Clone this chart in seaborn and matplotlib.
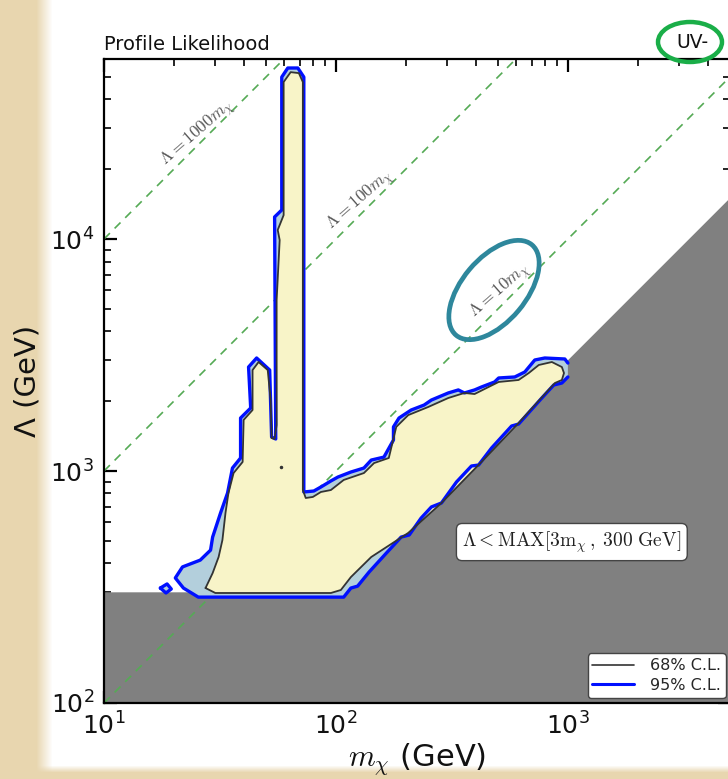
import numpy as np
import pandas as pd
import matplotlib
matplotlib.use('Agg')
import matplotlib.pyplot as plt
import seaborn as sns
from matplotlib.lines import Line2D
from matplotlib.patches import Ellipse
from matplotlib.transforms import IdentityTransform

sns.set_theme(style='ticks')
plt.rcParams['font.family'] = ['DejaVu Sans']
plt.rcParams['mathtext.fontset'] = 'cm'

# 95% C.L. contour (open at the m = 1 TeV grid edge)
cl95_m = [1000, 942, 869, 772, 613, 572, 469, 412, 384, 331, 285, 258, 233, 207, 191, 165, 139, 124, 116, 108, 25.5, 22.0,
          20.3, 21.8, 26.0, 28.8, 29.4, 31.8, 34.1, 35.8, 38.8, 38.8, 42.9, 42.0, 45.5, 51.8, 52.8, 55.0, 54.4, 58.4,
          58.4, 62.0, 68.5, 72.7, 72.7, 80.3, 86.1, 95.1, 102, 116, 132, 142, 161, 177, 177, 187, 211, 240, 258, 305,
          337, 358, 396, 424, 483, 503, 590, 652, 720, 795, 970, 1000]
cl95_lam = [2543, 2395, 2348, 2064, 1594, 1563, 1257, 1061, 1051, 897, 728, 700, 627, 530, 519, 443, 367, 319, 313, 286, 286, 313,
            346, 386, 413, 456, 519, 659, 804, 1030, 1138, 1692, 1869, 2807, 3070, 2724, 1402, 1374, 12450, 13340,
            49900, 54600, 54600, 49900, 812, 820, 853, 906, 942, 990, 1030, 1115, 1148, 1360, 1549, 1692, 1832, 1925, 2023, 2170,
            2236, 2170, 2236, 2302, 2420, 2518, 2543, 2672, 3010, 3070, 3040, 2920]
# small 95% island at low mass
isl95_m = [17.5, 18.7, 19.5, 18.5, 17.5]
isl95_lam = [313, 326, 310, 298, 313]

# 68% C.L. contour (closed)
cl68_m = [27.4, 29.4, 31.2, 32.4, 33.4, 34.4, 36.2, 39.6, 40.0, 43.7, 43.7, 46.4, 50.8, 52.3, 52.8, 54.4, 55.5, 55.5, 57.2, 56.1,
          59.5, 59.5, 63.8, 69.2, 72.0, 72.0, 74.1, 79.5, 86.1, 95.1, 108, 132, 146, 169, 182, 205, 250, 305, 358, 396,
          455, 503, 613, 678, 749, 853, 942, 962, 942, 879, 613, 424, 285, 205, 142, 116, 105, 95.1, 30.2, 27.4]
cl68_lam = [313, 363, 426, 504, 659, 804, 980, 1094, 1660, 1832, 2724, 2950, 2724, 2023, 1387, 1374, 1578, 5458, 9900, 10940,
            12680, 47500, 52400, 51900, 47500, 828, 765, 773, 812, 828, 915, 980, 1082, 1138, 1549, 1742, 1888, 2064, 2170, 2147,
            2302, 2420, 2468, 2644, 2864, 2950, 2807, 2644, 2468, 2395, 1610, 1094, 728, 541, 426, 349, 307, 298, 298, 313]
dot68_m = [57.8]
dot68_lam = [1040]

# excluded region: Lambda < max(3 m, 300 GeV)
excl_m = [10, 100, 5000]
excl_lam = [300, 300, 15000]

# reference lines Lambda = k * m
ref_k = [1000, 100, 10]
ref_m = [10, 5000]
ref_labels = [r'$\Lambda = 1000m_\chi$', r'$\Lambda = 100m_\chi$', r'$\Lambda = 10m_\chi$']
ref_label_m = [25.5, 128, 513]
ref_label_lam = [28500, 14700, 5910]

W, H = 728, 779
fig = plt.figure(figsize=(W / 100, H / 100), dpi=100)

# parchment frame behind the white plot card
bg = fig.add_axes([0, 0, 1, 1], zorder=-10)
yy, xx = np.mgrid[0:H, 0:W]
wx = np.clip((xx - 36) / 16.0, 0, 1)
wy = np.clip((772 - yy) / 7.0, 0, 1)
w = (wx * wy)[..., None]
parch = np.array([0.91, 0.84, 0.69])
bg.imshow(w + (1 - w) * parch, aspect='auto', interpolation='bilinear')
bg.axis('off')

ax = fig.add_axes([104 / W, 76 / H, 626 / W, 644.5 / H])
ax.set_facecolor('white')
ax.set_xscale('log')
ax.set_yscale('log')
ax.set_xlim(10, 5000)
ax.set_ylim(100, 6e4)

# excluded grey region
ax.fill_between(excl_m, 1, excl_lam, color='#808080', lw=0, zorder=1)

# reference dashed lines
ref_df = pd.DataFrame([(k, m, k * m) for k in ref_k for m in ref_m], columns=['k', 'm', 'lam'])
sns.lineplot(data=ref_df, x='m', y='lam', units='k', estimator=None, color='#55aa55',
             lw=1.2, linestyle=(0, (5, 4)), ax=ax, zorder=2)
for lab, lm, ll in zip(ref_labels, ref_label_m, ref_label_lam):
    ax.text(lm, ll, lab, rotation=41, ha='center', va='center', rotation_mode='anchor',
            fontsize=12.5, color='#555555', zorder=6)

# contours
ax.fill(cl95_m, cl95_lam, color='#b3cfdc', lw=0, zorder=3)
ax.fill(isl95_m, isl95_lam, color='#b3cfdc', lw=0, zorder=3)
ax.fill(cl68_m, cl68_lam, color='#f8f4c8', lw=0, zorder=3.5)
sns.lineplot(x=cl95_m, y=cl95_lam, sort=False, estimator=None, color='#0010ff', lw=2.4, ax=ax, zorder=4)
sns.lineplot(x=isl95_m, y=isl95_lam, sort=False, estimator=None, color='#0010ff', lw=2.4, ax=ax, zorder=4)
sns.lineplot(x=cl68_m, y=cl68_lam, sort=False, estimator=None, color='#333333', lw=1.3, ax=ax, zorder=5)
ax.plot(dot68_m, dot68_lam, 'o', ms=1.5, color='#333333', zorder=5)

ax.text(1040, 494, r'$\Lambda<\mathrm{MAX}[3\mathrm{m}_\chi\,,\;300\ \mathrm{GeV}]$', ha='center', va='center',
        fontsize=14, color='#222222', zorder=7,
        bbox=dict(boxstyle='round,pad=0.3,rounding_size=0.3', fc='white', ec='#444444', lw=1))

handles = [Line2D([], [], color='#333333', lw=1.2), Line2D([], [], color='#0010ff', lw=2.2)]
leg = ax.legend(handles, ['68% C.L.', '95% C.L.'], loc='lower right', bbox_to_anchor=(0.993, 0.008),
                borderaxespad=0, fontsize=11.5, frameon=True, fancybox=True, handlelength=2.6,
                borderpad=0.3, labelspacing=0.3, handletextpad=1.0, framealpha=1.0, facecolor='white')
leg.get_frame().set_edgecolor('#444444')
leg.get_frame().set_linewidth(1.0)
leg.set_zorder(8)

for s in ax.spines.values():
    s.set_linewidth(1.6)
    s.set_color('black')
    s.set_zorder(9)
ax.tick_params(which='both', direction='in', top=True, right=True, color='black', labelsize=18,
               labelcolor='#111111')
ax.tick_params(which='major', length=9, width=1.6, pad=7)
ax.tick_params(which='minor', length=5, width=1.2)

ax.set_xlabel(r'$m_\chi$ (GeV)', fontsize=22, labelpad=1, color='#111111')
ax.set_ylabel('Λ (GeV)', fontsize=21, labelpad=6, color='#111111')
ax.set_title('Profile Likelihood', loc='left', fontsize=14, pad=6, color='#111111')
fig.text(708 / W, 1 - 42 / H, 'UV-', ha='right', va='center', fontsize=13.5, color='#111111')

# highlight rings (pixel coordinates of the image)
ring1 = Ellipse((690, H - 42), 64, 40, fill=False, ec='#1aae48', lw=3.2, transform=IdentityTransform())
ring2 = Ellipse((494, H - 290), 118, 64, angle=50, fill=False, ec='#2e879c', lw=3.4, transform=IdentityTransform())
fig.add_artist(ring1)
fig.add_artist(ring2)

fig.savefig('out.png', dpi=100)
